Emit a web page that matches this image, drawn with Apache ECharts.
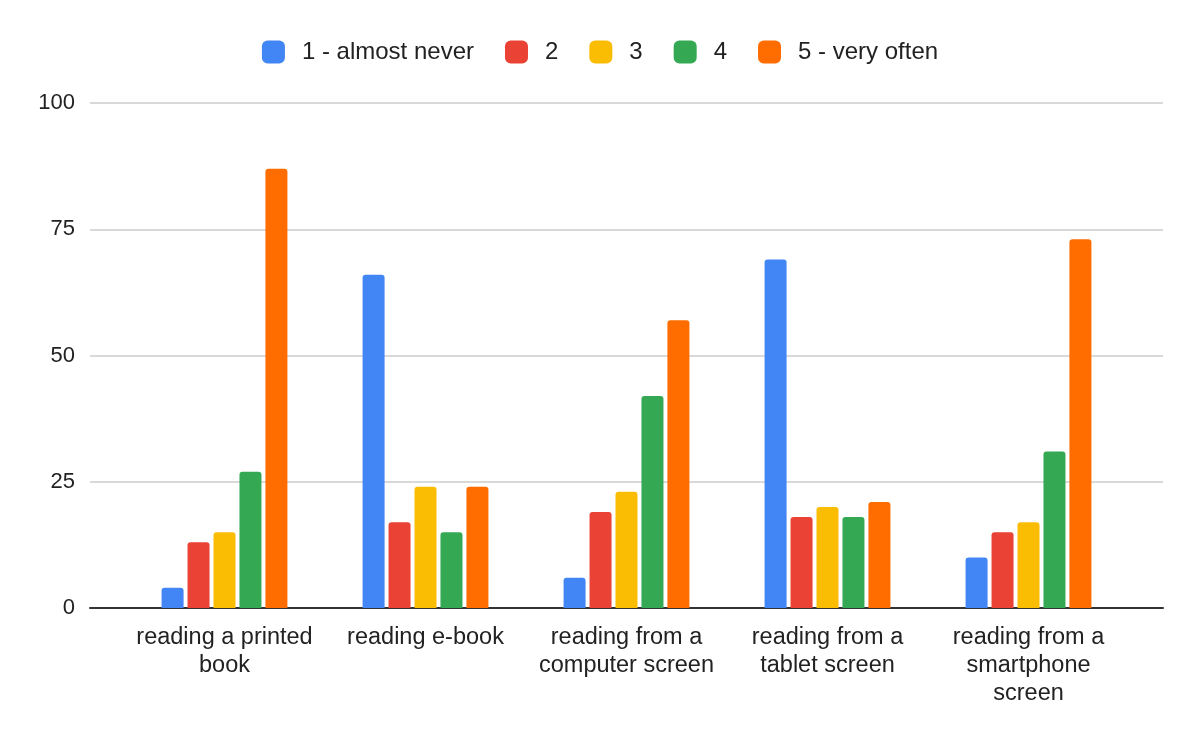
<!DOCTYPE html>
<html>
<head>
<meta charset="utf-8">
<script src="https://cdn.jsdelivr.net/npm/echarts@6/dist/echarts.min.js"></script>
<style>html,body{margin:0;padding:0;background:#fff;}#c{width:1200px;height:742px;}</style>
</head>
<body>
<div id="c"></div>
<script>
const categories = ["reading a printed\nbook", "reading e-book", "reading from a\ncomputer screen", "reading from a\ntablet screen", "reading from a\nsmartphone\nscreen"];
const seriesNames = ["1 - almost never", "2", "3", "4", "5 - very often"];
const s1 = [4, 66, 6, 69, 10];
const s2 = [13, 17, 19, 18, 15];
const s3 = [15, 24, 23, 20, 17];
const s4 = [27, 15, 42, 18, 31];
const s5 = [87, 24, 57, 21, 73];
const yTicks = [0, 25, 50, 75, 100];
const colors = ["#4285F4", "#EA4335", "#FBBC04", "#34A853", "#FF6D01"];

const values = [s1, s2, s3, s4, s5];
const font = "'Liberation Sans', Arial, sans-serif";
const chart = echarts.init(document.getElementById('c'));
chart.setOption({
  animation: false,
  color: colors,
  legend: {
    top: 35,
    left: 'center',
    icon: 'roundRect',
    itemWidth: 23,
    itemHeight: 23,
    itemGap: 31,
    textStyle: { fontSize: 24, color: '#222', fontFamily: font, padding: [0, 0, 0, 12] },
    data: seriesNames
  },
  grid: [
    { left: 90, right: 37, top: 103, bottom: 134 },
    { left: 124, right: 71, top: 103, bottom: 134 }
  ],
  xAxis: [
    { gridIndex: 0, type: 'category', data: categories,
      axisLine: { show: true, lineStyle: { color: '#333', width: 2 } },
      axisTick: { show: false }, axisLabel: { show: false }, splitLine: { show: false } },
    { gridIndex: 1, type: 'category', data: categories,
      axisLine: { show: false }, axisTick: { show: false },
      axisLabel: { fontSize: 23.5, color: '#222', fontFamily: font, margin: 16, lineHeight: 28, interval: 0 } }
  ],
  yAxis: [
    { gridIndex: 0, type: 'value', min: yTicks[0], max: yTicks[yTicks.length - 1], interval: 25,
      axisLine: { show: false }, axisTick: { show: false },
      axisLabel: { fontSize: 22, color: '#222', fontFamily: font, margin: 15 },
      splitLine: { lineStyle: { color: '#cccccc', width: 1.5 } } },
    { gridIndex: 1, type: 'value', min: yTicks[0], max: yTicks[yTicks.length - 1], interval: 25,
      show: false }
  ],
  series: seriesNames.map((n, i) => ({
    name: n,
    type: 'bar',
    xAxisIndex: 1,
    yAxisIndex: 1,
    data: values[i],
    barWidth: 22,
    barGap: '18%',
    itemStyle: { color: colors[i], borderRadius: [3, 3, 0, 0] }
  }))
});
</script>
</body>
</html>
